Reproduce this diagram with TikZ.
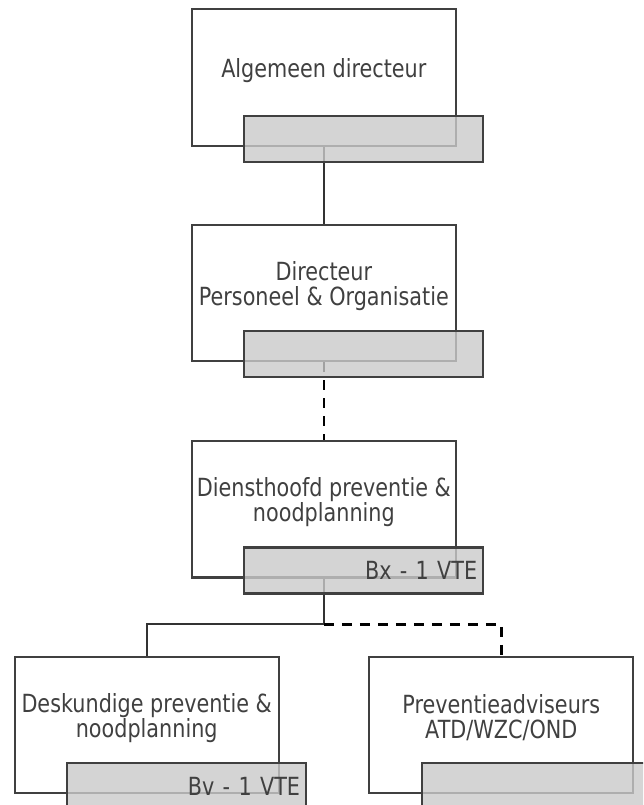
\documentclass[tikz,border=0pt]{standalone}
\usepackage{fontspec}
\setmainfont{DejaVu Sans}[FakeStretch=0.83]

\begin{document}
\begin{tikzpicture}[x=1pt,y=-1pt]
		\tikzstyle{every node}=[font=\fontsize{25}{25}\selectfont, text={rgb,255:red,64; green,64; blue,64}]
		\tikzstyle{functie}=[draw={rgb,255:red,64; green,64; blue,64}, line width=2.3pt, fill=white, minimum width=264pt, minimum height=136.5pt, inner sep=0pt]
		\tikzstyle{graad}=[draw={rgb,255:red,64; green,64; blue,64}, line width=2.3pt, fill={rgb,255:red,202; green,202; blue,202}, fill opacity=0.8, text opacity=1, text width=227pt, align=right, inner xsep=6pt, inner ysep=0pt, minimum height=46pt]
		\tikzstyle{titel}=[align=center, inner sep=0pt]
		\tikzstyle{lijn}=[draw={rgb,255:red,50; green,50; blue,50}, line width=2.3pt]
		\tikzstyle{stippel}=[draw={rgb,255:red,0; green,0; blue,0}, line width=2.5pt, dash pattern=on 10pt off 8pt]
		\useasboundingbox (0,0) rectangle (643,805);
		\clip (0,0) rectangle (643,805);
		\node [functie] (algdir) at (323.85,77.5) {};
		\node [functie] (dirpo) at (323.85,293) {};
		\node [functie] (dienst) at (323.85,509.2) {};
		\node [functie] (desk) at (146.7,725) {};
		\node [functie] (prevadv) at (501.3,725) {};
		\coordinate (tak) at (323.85,624.3);
		\draw [lijn] (algdir.south) -- (dirpo.north);
		\draw [stippel] (dirpo.south) -- (dienst.north);
		\draw [lijn] (dienst.south) -- (tak) -| (desk.north);
		\draw [stippel] (tak) -| (prevadv.north);
		\node [graad] (algdirG) at (363.7,138.75) {};
		\node [graad] (dirpoG) at (363.7,354.25) {};
		\node [graad] (dienstG) at (363.7,570.45) {Bx - 1 VTE};
		\node [graad] (deskG) at (186.55,786.25) {Bv - 1 VTE};
		\node [graad] (prevadvG) at (541.15,786.25) {};
		\node [titel] (algdirT) at (323.85,70.5) {Algemeen directeur};
		\node [titel] (dirpoT) at (323.85,286) {Directeur\\Personeel \& Organisatie};
		\node [titel] (dienstT) at (323.85,502.2) {Diensthoofd preventie \&\\noodplanning};
		\node [titel] (deskT) at (146.7,718) {Deskundige preventie \&\\noodplanning};
		\node [titel] (prevadvT) at (501.3,718) {Preventieadviseurs\\ATD/WZC/OND};
		\end{tikzpicture}
\end{document}
